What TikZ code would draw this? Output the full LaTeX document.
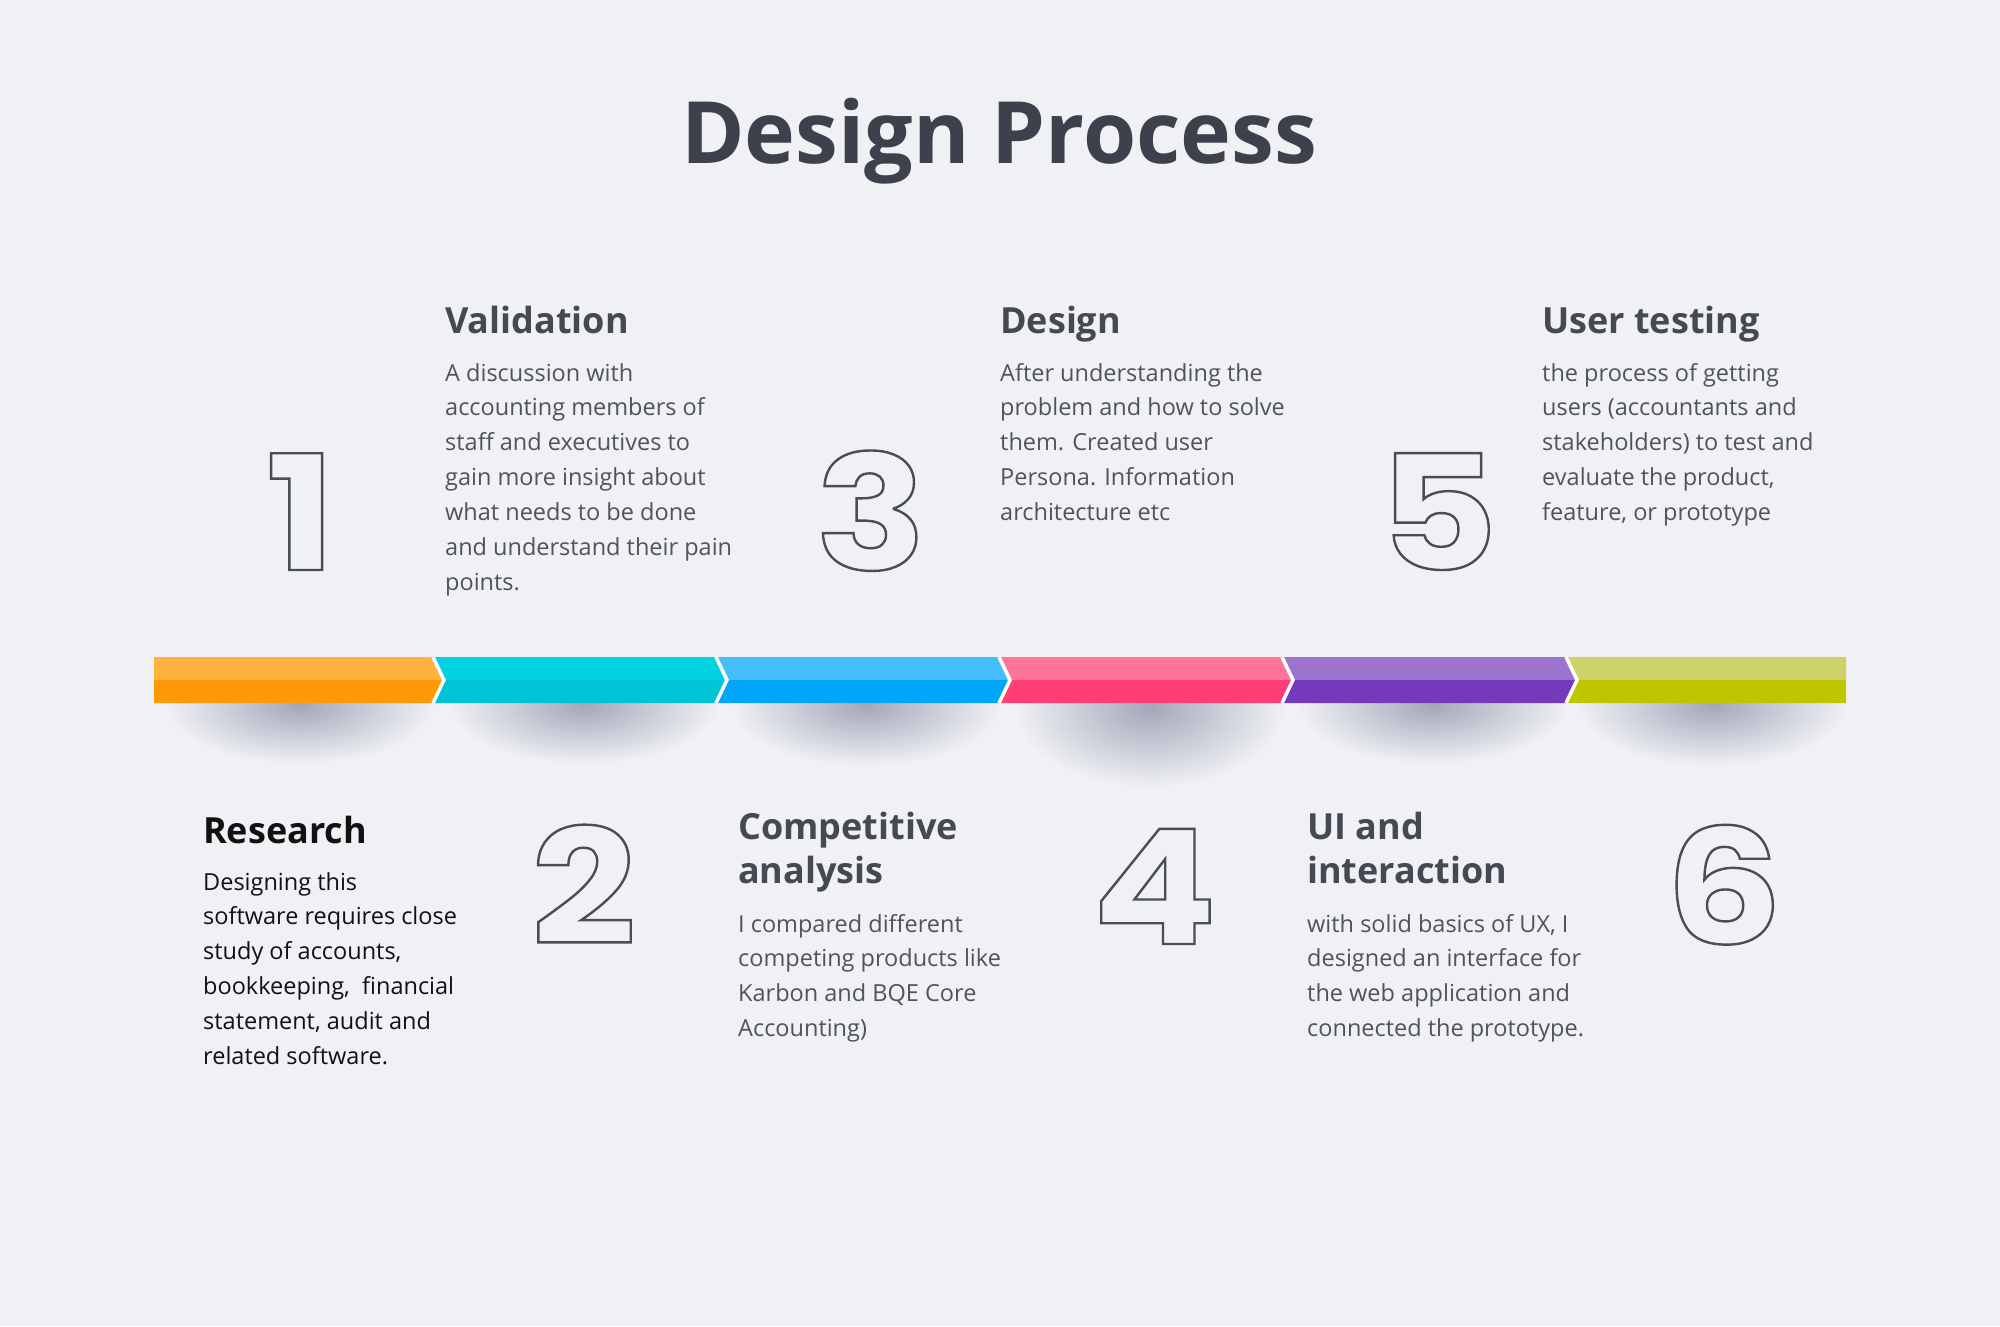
\documentclass[tikz,border=0pt]{standalone}
\usepackage{fontspec}
\setmainfont{Open Sans}
\newfontfamily\numfont{Poppins}[FakeStretch=1.15]
\definecolor{bg}{HTML}{F0F1F5}
\definecolor{titlecol}{HTML}{3E404B}
\definecolor{headcol}{HTML}{464852}
\definecolor{bodycol}{HTML}{50525C}
\definecolor{blackcol}{HTML}{111111}
\definecolor{digitcol}{HTML}{4A4C56}
\definecolor{shadowcol}{HTML}{A3A8B9}
\definecolor{oT}{HTML}{FFB240}
\definecolor{oB}{HTML}{FF9908}
\definecolor{cT}{HTML}{00D3DF}
\definecolor{cB}{HTML}{00C3D5}
\definecolor{bT}{HTML}{45BDF9}
\definecolor{bB}{HTML}{00A6F8}
\definecolor{pT}{HTML}{FF7499}
\definecolor{pB}{HTML}{FF3D76}
\definecolor{vT}{HTML}{9C74CE}
\definecolor{vB}{HTML}{7539BE}
\definecolor{gT}{HTML}{CDD366}
\definecolor{gB}{HTML}{BEC600}
\tikzset{
  titlestyle/.style={anchor=base, inner sep=0, text=titlecol, font=\fontsize{86}{100}\selectfont\bfseries},
  headstyle/.style={anchor=base west, inner sep=0, align=left, text=headcol, font=\fontsize{36}{44}\selectfont\bfseries},
  bodystyle/.style={anchor=base west, inner sep=0, align=left, text=bodycol, font=\fontsize{23.5}{34.9}\selectfont},
  digitstyle/.style={anchor=base west, inner sep=0, text=digitcol, font=\numfont\bfseries\fontsize{160}{160}\selectfont,
    execute at begin node={\special{pdf:code 1 Tr 2.4 w}},
    execute at end node={\special{pdf:code 0 Tr}}},
  sep/.style={draw=white, line width=3.5pt, line join=miter},
  shadowstyle/.style={inner color=shadowcol, outer color=bg}
}
\begin{document}
\begin{tikzpicture}[x=1pt,y=-1pt]
\fill[bg] (0,0) rectangle (2000,1326);
\useasboundingbox (0,0) rectangle (2000,1326);

% shadows (only below the bar)
\begin{scope}
\clip (0,700) rectangle (2000,1326);
\shade[shadowstyle] (300,706) ellipse (135 and 58);
\shade[shadowstyle] (584,706) ellipse (135 and 58);
\shade[shadowstyle] (866,706) ellipse (135 and 60);
\shade[shadowstyle] (1150,708) ellipse (135 and 80);
\shade[shadowstyle] (1433,706) ellipse (135 and 58);
\shade[shadowstyle] (1712,706) ellipse (135 and 60);
\end{scope}

% bar segments
\fill[oT] (154,657) -- (433,657) -- (444,680) -- (154,680) -- cycle;
\fill[oB] (154,680) -- (444,680) -- (433,703) -- (154,703) -- cycle;
\fill[cT] (433,657) -- (716,657) -- (727,680) -- (444,680) -- cycle;
\fill[cB] (444,680) -- (727,680) -- (716,703) -- (433,703) -- cycle;
\fill[bT] (716,657) -- (999,657) -- (1010,680) -- (727,680) -- cycle;
\fill[bB] (727,680) -- (1010,680) -- (999,703) -- (716,703) -- cycle;
\fill[pT] (999,657) -- (1282,657) -- (1293,680) -- (1010,680) -- cycle;
\fill[pB] (1010,680) -- (1293,680) -- (1282,703) -- (999,703) -- cycle;
\fill[vT] (1282,657) -- (1566,657) -- (1577,680) -- (1293,680) -- cycle;
\fill[vB] (1293,680) -- (1577,680) -- (1566,703) -- (1282,703) -- cycle;
\fill[gT] (1566,657) -- (1846,657) -- (1846,680) -- (1577,680) -- cycle;
\fill[gB] (1577,680) -- (1846,680) -- (1846,703) -- (1566,703) -- cycle;
\foreach \t in {444,727,1010,1293,1577}
  \draw[sep] (\t-11,657) -- (\t,680) -- (\t-11,703);

% title
\node[titlestyle] (title) at (999,163) {Design Process};

% top row (multi-line nodes: anchor is the last baseline)
\node[digitstyle] (d1) at (266,570) {1};
\node[headstyle] (h2) at (445,333) {Validation};
\node[bodystyle] (b2) at (445,590.4) {A discussion with\\accounting members of\\staff and executives to\\gain more insight about\\what needs to be done\\and understand their pain\\points.};

\node[digitstyle] (d3) at (815,570) {3};
\node[headstyle] (h4) at (1000,333) {Design};
\node[bodystyle] (b4) at (1000,520.6) {After understanding the\\problem and how to solve\\them. Created user\\Persona. Information\\architecture etc};

\node[digitstyle] (d5) at (1378,570) {5};
\node[headstyle] (h6) at (1542,333) {User testing};
\node[bodystyle] (b6) at (1542,520.6) {the process of getting\\users (accountants and\\stakeholders) to test and\\evaluate the product,\\feature, or prototype};

% bottom row
\node[headstyle, text=blackcol] (h1) at (203,843) {Research};
\node[bodystyle, text=blackcol] (b1) at (203,1064.5) {Designing this\\software requires close\\study of accounts,\\bookkeeping,\ \ financial\\statement, audit and\\related software.};
\node[digitstyle] (d2) at (531,944) {2};

\node[headstyle] (h3) at (738,883) {Competitive\\analysis};
\node[bodystyle] (b3) at (738,1036.7) {I compared different\\competing products like\\Karbon and BQE Core\\Accounting)};
\node[digitstyle] (d4) at (1092,944) {4};

\node[headstyle] (h5) at (1307,883) {UI and\\interaction};
\node[bodystyle] (b5) at (1307,1036.7) {with solid basics of UX, I\\designed an interface for\\the web application and\\connected the prototype.};
\node[digitstyle] (d6) at (1665,944) {6};
\end{tikzpicture}
\end{document}
